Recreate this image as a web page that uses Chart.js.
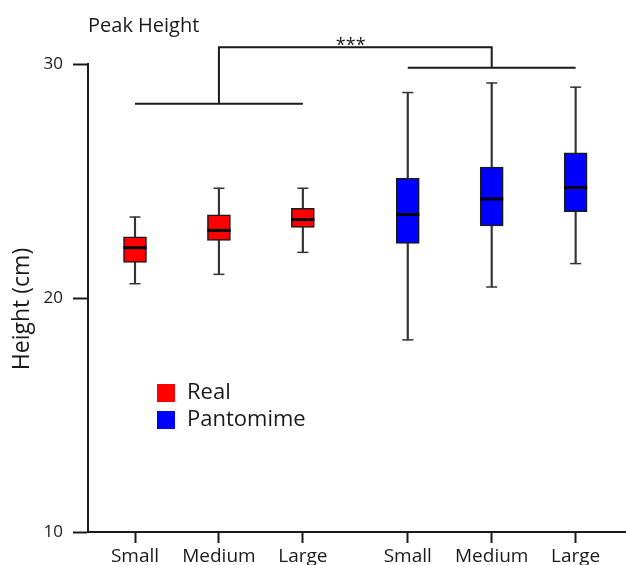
<!DOCTYPE html>
<html>
<head>
<meta charset="utf-8">
<script src="https://cdn.jsdelivr.net/npm/chart.js@4"></script>
<style>
  html, body { margin: 0; padding: 0; background: #fff; }
  #wrap { width: 626px; height: 565px; }
</style>
</head>
<body>
<div id="wrap"><canvas id="peakChart" width="626" height="565"></canvas></div>
<script>
// --- data ---
const sizeLabels = ['Small', 'Medium', 'Large', 'Small', 'Medium', 'Large'];
const xPositions = [1, 2, 3, 4.25, 5.25, 6.25];
const yTicks = [10, 20, 30];
const yTitle = 'Height (cm)';

const realMin = [20.61, 21.01, 21.95];
const realQ1 = [21.52, 22.46, 23.02];
const realMedian = [22.15, 22.89, 23.35];
const realQ3 = [22.61, 23.55, 23.83];
const realMax = [23.46, 24.69, 24.69];

const pantoMin = [18.21, 20.47, 21.47];
const pantoQ1 = [22.33, 23.08, 23.69];
const pantoMedian = [23.57, 24.23, 24.72];
const pantoQ3 = [25.11, 25.59, 26.20];
const pantoMax = [28.78, 29.19, 29.01];

// significance brackets
const sigRealY = 28.30;
const sigPantoY = 29.84;
const sigTopY = 30.72;
const sigLabel = '***';
const sigLabelX = 3.57;

const FONT = '"Open Sans", sans-serif';
const INK = '#1a1a1a';
Chart.defaults.font.family = FONT;

// --- helpers ---
const realX = xPositions.slice(0, 3);
const pantoX = xPositions.slice(3);
const allMin = realMin.concat(pantoMin);
const allMax = realMax.concat(pantoMax);
const allMedian = realMedian.concat(pantoMedian);

const boxData = (xs, lo, hi) => xs.map((x, i) => ({ x: x, y: [lo[i], hi[i]] }));
const pointData = (xs, ys) => xs.map((x, i) => ({ x: x, y: ys[i] }));

const bracketSet = (points) => ({
    type: 'line',
    data: points,
    borderColor: INK,
    borderWidth: 2,
    pointRadius: 0,
    clip: false,
    order: 0
});

// legend drawn inside the plot
const boxLegend = {
    id: 'boxLegend',
    afterDraw(chart) {
        const ctx = chart.ctx;
        const area = chart.chartArea;
        const items = chart.data.datasets.filter(d => d.inLegend);
        ctx.save();
        ctx.font = '22px ' + FONT;
        ctx.textBaseline = 'middle';
        items.forEach((d, i) => {
            const x = area.left + 69;
            const y = area.top + 320 + i * 27;
            ctx.fillStyle = d.backgroundColor;
            ctx.fillRect(x, y, 18, 18);
            ctx.fillStyle = INK;
            ctx.fillText(d.label, x + 30, y + 9);
        });
        ctx.restore();
    }
};

// "***" over the top bracket, y title a little below centre like the figure
const extraText = {
    id: 'extraText',
    afterDatasetsDraw(chart) {
        const ctx = chart.ctx;
        const area = chart.chartArea;
        const x = chart.scales.x.getPixelForValue(sigLabelX);
        const y = chart.scales.y.getPixelForValue(sigTopY);
        ctx.save();
        ctx.font = '18px ' + FONT;
        ctx.fillStyle = INK;
        ctx.textAlign = 'center';
        ctx.textBaseline = 'alphabetic';
        ctx.fillText(sigLabel, x, y + 4);

        ctx.translate(22, (area.top + area.bottom) / 2 + 11);
        ctx.rotate(-Math.PI / 2);
        ctx.font = '23px ' + FONT;
        ctx.textBaseline = 'middle';
        ctx.fillText(yTitle, 0, 0);
        ctx.restore();
    }
};

const ctx = document.getElementById('peakChart').getContext('2d');
new Chart(ctx, {
    type: 'bar',
    data: {
        datasets: [
            {
                label: 'whiskers',
                data: boxData(xPositions, allMin, allMax),
                backgroundColor: '#333',
                borderWidth: 0,
                barThickness: 1.5,
                grouped: false,
                order: 3
            },
            {
                label: 'Real',
                inLegend: true,
                data: boxData(realX, realQ1, realQ3),
                backgroundColor: '#ff0000',
                borderColor: INK,
                borderWidth: 1.5,
                borderSkipped: false,
                barThickness: 23,
                grouped: false,
                order: 2
            },
            {
                label: 'Pantomime',
                inLegend: true,
                data: boxData(pantoX, pantoQ1, pantoQ3),
                backgroundColor: '#0000ff',
                borderColor: INK,
                borderWidth: 1.5,
                borderSkipped: false,
                barThickness: 23,
                grouped: false,
                order: 2
            },
            {
                label: 'caps',
                type: 'line',
                showLine: false,
                data: pointData(xPositions, allMin).concat(pointData(xPositions, allMax)),
                pointStyle: 'line',
                pointRadius: 5.5,
                pointBorderWidth: 1.5,
                pointBorderColor: '#333',
                order: 1
            },
            {
                label: 'median',
                type: 'line',
                showLine: false,
                data: pointData(xPositions, allMedian),
                pointStyle: 'line',
                pointRadius: 11.5,
                pointBorderWidth: 3,
                pointBorderColor: '#000',
                order: 1
            },
            bracketSet([{ x: realX[0], y: sigRealY }, { x: realX[2], y: sigRealY }]),
            bracketSet([{ x: realX[1], y: sigRealY }, { x: realX[1], y: sigTopY },
                        { x: pantoX[1], y: sigTopY }, { x: pantoX[1], y: sigPantoY }]),
            bracketSet([{ x: pantoX[0], y: sigPantoY }, { x: pantoX[2], y: sigPantoY }])
        ]
    },
    options: {
        responsive: false,
        animation: false,
        layout: { autoPadding: false, padding: { left: 0, right: 0, top: 0, bottom: 0 } },
        plugins: {
            legend: { display: false },
            tooltip: { enabled: false },
            title: {
                display: true,
                text: 'Peak Height',
                align: 'start',
                fullSize: false,
                color: INK,
                font: { size: 20, weight: 'normal' },
                padding: { top: 14, bottom: 26 }
            }
        },
        scales: {
            x: {
                type: 'linear',
                min: 0.44,
                max: 6.85,
                offset: false,
                afterBuildTicks: (scale) => { scale.ticks = xPositions.map(v => ({ value: v })); },
                afterFit: (scale) => {
                    scale.height = 33;
                    scale.paddingLeft = 0;
                    scale.paddingRight = 0;
                },
                ticks: {
                    autoSkip: false,
                    maxRotation: 0,
                    padding: 2,
                    color: INK,
                    font: { size: 19 },
                    callback: (value, index) => sizeLabels[index]
                },
                grid: { drawOnChartArea: false, offset: false, tickLength: 11, tickColor: INK, tickWidth: 2 },
                border: { color: INK, width: 2 }
            },
            y: {
                min: yTicks[0],
                max: yTicks[yTicks.length - 1],
                afterBuildTicks: (scale) => { scale.ticks = yTicks.map(v => ({ value: v })); },
                afterFit: (scale) => { scale.width = 88; },
                ticks: { padding: 10, color: INK, font: { size: 17 } },
                grid: { drawOnChartArea: false, tickLength: 15, tickColor: INK, tickWidth: 2 },
                border: { color: INK, width: 2 }
            }
        }
    },
    plugins: [boxLegend, extraText]
});
</script>
</body>
</html>
